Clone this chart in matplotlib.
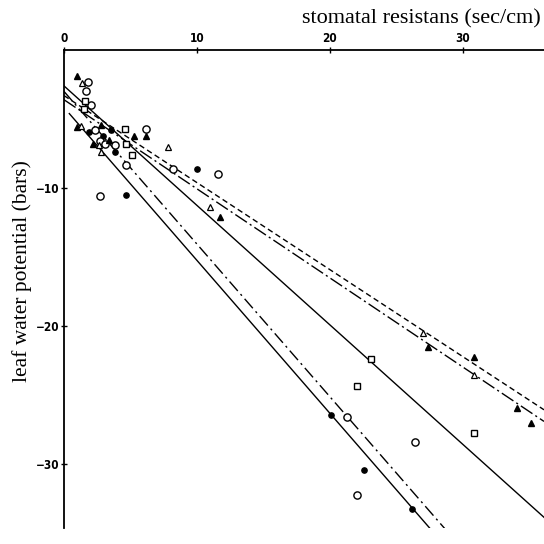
import matplotlib
matplotlib.use("Agg")
import matplotlib.pyplot as plt
import numpy as np

# ---- data ----
fc_x = [1.9, 2.9, 3.5, 3.8, 4.7, 10.0, 20.1, 22.6, 26.2]
fc_y = [-5.9, -6.2, -5.8, -7.4, -10.5, -8.6, -26.4, -30.4, -33.2]

oc_x = [1.8, 1.65, 2.0, 2.3, 2.7, 3.1, 3.8, 4.7, 6.2, 8.2, 11.6, 2.7, 21.3, 22.0, 26.4]
oc_y = [-2.3, -3.0, -4.0, -5.8, -6.6, -6.8, -6.9, -8.3, -5.7, -8.6, -9.0, -10.6, -26.6, -32.2, -28.4]

sq_x = [1.6, 1.5, 4.6, 4.7, 5.1, 23.1, 22.0, 30.8]
sq_y = [-3.7, -4.3, -5.7, -6.8, -7.6, -22.4, -24.3, -27.7]

ft_x = [1.0, 1.0, 2.2, 2.8, 3.4, 5.3, 6.2, 11.7, 27.4, 30.8, 34.1, 35.1]
ft_y = [-1.9, -5.6, -6.8, -5.4, -6.5, -6.2, -6.2, -12.1, -21.5, -22.2, -25.9, -27.0]

ot_x = [1.35, 1.3, 2.6, 2.8, 7.8, 11.0, 27.0, 30.8]
ot_y = [-2.4, -5.5, -6.9, -7.4, -7.0, -11.4, -20.5, -23.5]

# regression lines: (intercept, slope, x_start, x_end)
line_fc = (-4.16, -1.107, 0.4, 28.5)
line_oc = (-3.0, -1.105, 0.0, 30.0)
line_sq = (-2.6, -0.865, 0.0, 36.1)
line_ot = (-3.3, -0.63, 0.0, 36.1)
line_ft = (-3.6, -0.645, 0.0, 36.1)

x_ticks = [0, 10, 20, 30]
y_ticks = [-10, -20, -30]
y_ticklabels = ["\u221210", "\u221220", "\u221230"]

# ---- figure ----
fig = plt.figure(figsize=(5.44, 5.44), dpi=100)
ax = fig.add_axes([64/544, 1-528/544, 1-64/544, (528-50)/544])
ax.set_xlim(0, 36.1)
ax.set_ylim(-34.6, 0)

def draw_line(p, **kw):
    b, m, x0, x1 = p
    xs = np.array([x0, x1])
    ax.plot(xs, b + m*xs, color='black', lw=1.0, **kw)

draw_line(line_fc, linestyle='-')
draw_line(line_oc, linestyle=(0, (9, 3, 1.5, 3)))
draw_line(line_sq, linestyle='-')
draw_line(line_ot, linestyle=(0, (4, 2.5)))
draw_line(line_ft, linestyle=(0, (10, 2.5, 1.5, 2.5)))

ax.plot(fc_x, fc_y, 'o', ms=3.8, mfc='black', mec='black', clip_on=False)
ax.plot(oc_x, oc_y, 'o', ms=5.2, mfc='white', mec='black', mew=1.0, clip_on=False)
ax.plot(sq_x, sq_y, 's', ms=4.4, mfc='white', mec='black', mew=1.0, clip_on=False)
ax.plot(ft_x, ft_y, '^', ms=3.8, mfc='black', mec='black', clip_on=False)
ax.plot(ot_x, ot_y, '^', ms=4.0, mfc='white', mec='black', mew=0.9, clip_on=False)

for s in ['right', 'bottom']:
    ax.spines[s].set_visible(False)
for s in ['top', 'left']:
    ax.spines[s].set_linewidth(1.3)

ax.xaxis.tick_top()
ax.set_xticks(x_ticks)
ax.set_xticklabels([str(v) for v in x_ticks])
ax.set_yticks(y_ticks)
ax.set_yticklabels(y_ticklabels)
ax.tick_params(axis='both', direction='inout', length=5, width=1.0, pad=1)
for lbl in ax.get_xticklabels() + ax.get_yticklabels():
    lbl.set_fontfamily('DejaVu Sans')
    lbl.set_fontstretch('condensed')
    lbl.set_fontweight('bold')
    lbl.set_fontsize(8.5)

fig.text(541/544, 1-19/544, "stomatal resistans (sec/cm)", ha='right', va='center',
         family='Liberation Serif', fontsize=16)
fig.text(22/544, 1-271/544, "leaf water potential (bars)", ha='center', va='center',
         rotation=90, family='Liberation Serif', fontsize=15.5)

fig.savefig("out.png", dpi=100)
